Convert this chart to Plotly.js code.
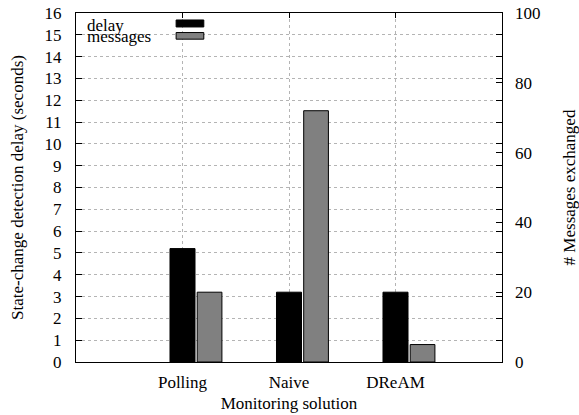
<!DOCTYPE html>
<html>
<head>
<meta charset="utf-8">
<script src="https://cdn.plot.ly/plotly-3.0.1.min.js"></script>
<style>html,body{margin:0;padding:0;background:#fff;}#chart{width:579px;height:415px;}</style>
</head>
<body>
<div id="chart"></div>
<script>
const categories = ['Polling', 'Naive', 'DReAM'];
const delay = [5.2, 3.2, 3.2];
const messages = [20, 72, 5];
const legendLabels = ['delay', 'messages'];
const seriesColors = ['#000000', '#808080'];

const font = {family: '"Liberation Serif", serif', size: 17, color: '#000'};
const gridColor = '#b4b4b4';

const traces = [
  {
    type: 'bar', x: categories, y: delay, name: legendLabels[0],
    width: 0.235, offset: -0.1175,
    marker: {color: seriesColors[0], line: {color: '#000', width: 1}},
    showlegend: false, hoverinfo: 'x+y'
  },
  {
    type: 'bar', x: categories, y: messages, name: legendLabels[1], yaxis: 'y2',
    width: 0.232, offset: 0.138,
    marker: {color: seriesColors[1], line: {color: '#000', width: 1}},
    showlegend: false, hoverinfo: 'x+y'
  }
];

const layout = {
  width: 579, height: 415,
  margin: {l: 76, r: 77, t: 13, b: 53, pad: 0},
  paper_bgcolor: '#fff', plot_bgcolor: '#fff',
  font: font,
  barmode: 'overlay',
  showlegend: false,
  xaxis: {
    type: 'category', categoryarray: categories, categoryorder: 'array',
    range: [-1, 3], fixedrange: true,
    showline: true, linecolor: '#000', linewidth: 1, mirror: 'ticks',
    ticks: 'inside', ticklen: 5, tickcolor: '#000', tickwidth: 1,
    showgrid: true, gridcolor: gridColor, griddash: 'dot', gridwidth: 1,
    tickfont: font, ticklabelstandoff: 5,
    title: {text: 'Monitoring solution', font: font, standoff: 5},
    automargin: false
  },
  yaxis: {
    range: [0, 16], dtick: 1, tick0: 0,
    showline: true, linecolor: '#000', linewidth: 1, mirror: 'ticks',
    ticks: 'inside', ticklen: 6, tickcolor: '#000', tickwidth: 1,
    showgrid: true, gridcolor: gridColor, griddash: 'dot', gridwidth: 1,
    zeroline: false, tickfont: font, ticklabelstandoff: 10,
    title: {text: 'State-change detection delay (seconds)', font: font, standoff: 16},
    automargin: false
  },
  yaxis2: {
    overlaying: 'y', side: 'right',
    range: [0, 100], dtick: 20, tick0: 0,
    showline: false,
    ticks: 'inside', ticklen: 6, tickcolor: '#000', tickwidth: 1,
    showgrid: false, zeroline: false, tickfont: font, ticklabelstandoff: 12,
    title: {text: '# Messages exchanged', font: font, standoff: 24},
    automargin: false
  },
  shapes: [
    {type: 'rect', xref: 'paper', yref: 'paper', x0: 0.002, x1: 0.322, y0: 0.917, y1: 0.998,
     fillcolor: '#fff', line: {width: 0}, layer: 'between'},
    {type: 'rect', xref: 'paper', yref: 'paper', x0: 0.235, x1: 0.300, y0: 0.960, y1: 0.980,
     fillcolor: seriesColors[0], line: {color: '#000', width: 1}},
    {type: 'rect', xref: 'paper', yref: 'paper', x0: 0.235, x1: 0.300, y0: 0.925, y1: 0.944,
     fillcolor: seriesColors[1], line: {color: '#000', width: 1}}
  ],
  annotations: [
    {xref: 'paper', yref: 'paper', x: 0.024, y: 0.965, xanchor: 'left', yanchor: 'middle',
     text: legendLabels[0], showarrow: false, font: font, borderpad: 0},
    {xref: 'paper', yref: 'paper', x: 0.024, y: 0.932, xanchor: 'left', yanchor: 'middle',
     text: legendLabels[1], showarrow: false, font: font, borderpad: 0}
  ]
};

Plotly.newPlot('chart', traces, layout, {displayModeBar: false, staticPlot: true});
</script>
</body>
</html>
